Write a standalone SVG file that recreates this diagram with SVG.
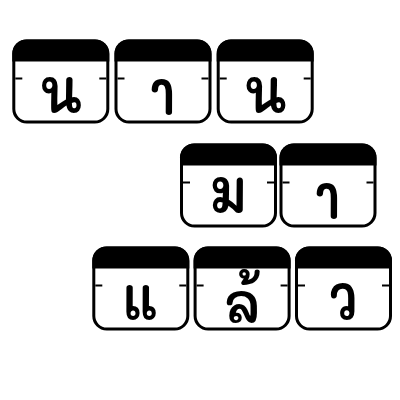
<svg xmlns="http://www.w3.org/2000/svg" xmlns:xlink="http://www.w3.org/1999/xlink" width="400" height="400" viewBox="0 0 400 400">
<style>
.txt{font-family:"Purisa","Tlwg Typist","Mali","Sriracha","Noto Sans Thai Looped","Noto Serif Thai","Loma",sans-serif;font-size:52px;font-weight:600;fill:#000;text-anchor:middle}
.outline{fill:#fff;stroke:#000;stroke-width:3}
.head{fill:#000}
.tick{stroke:#000;stroke-width:2}
</style>
<defs>
<g id="frame">
<rect class="outline" x="1.5" y="1.5" width="94" height="81" rx="13" ry="13"/>
<path class="head" d="M0,22 V14 A14,14 0 0 1 14,0 H83 A14,14 0 0 1 97,14 V22 Z"/>
<line class="tick" x1="3" y1="39" x2="10" y2="39"/>
<line class="tick" x1="87" y1="39" x2="94" y2="39"/>
</g>
</defs>
<rect width="400" height="400" fill="#fff"/>
<g id="n1" transform="translate(12.3,39.5)"><use xlink:href="#frame"/><text class="txt" transform="translate(48.5,73.5) scale(1,1.15)">น</text></g>
<g id="n2" transform="translate(114.5,39.5)"><use xlink:href="#frame"/><text class="txt" transform="translate(48.5,75) scale(1,1.15)">า</text></g>
<g id="n3" transform="translate(216.7,39.5)"><use xlink:href="#frame"/><text class="txt" transform="translate(48.5,73.5) scale(1,1.15)">น</text></g>
<g id="n4" transform="translate(180,143.5)"><use xlink:href="#frame"/><text class="txt" transform="translate(48.5,69) scale(1,1.15)">ม</text></g>
<g id="n5" transform="translate(279.5,143.5)"><use xlink:href="#frame"/><text class="txt" transform="translate(48.5,75) scale(1,1.15)">า</text></g>
<g id="n6" transform="translate(92.3,246.5)"><use xlink:href="#frame"/><text class="txt" transform="translate(48.5,73.5) scale(1,1.15)">แ</text></g>
<g id="n7" transform="translate(193.6,246.5)"><use xlink:href="#frame"/><text class="txt" transform="translate(48.5,76)">ล้</text></g>
<g id="n8" transform="translate(295,246.5)"><use xlink:href="#frame"/><text class="txt" transform="translate(48.5,73.5) scale(1,1.15)">ว</text></g>
<g id="connectors"/>
</svg>
